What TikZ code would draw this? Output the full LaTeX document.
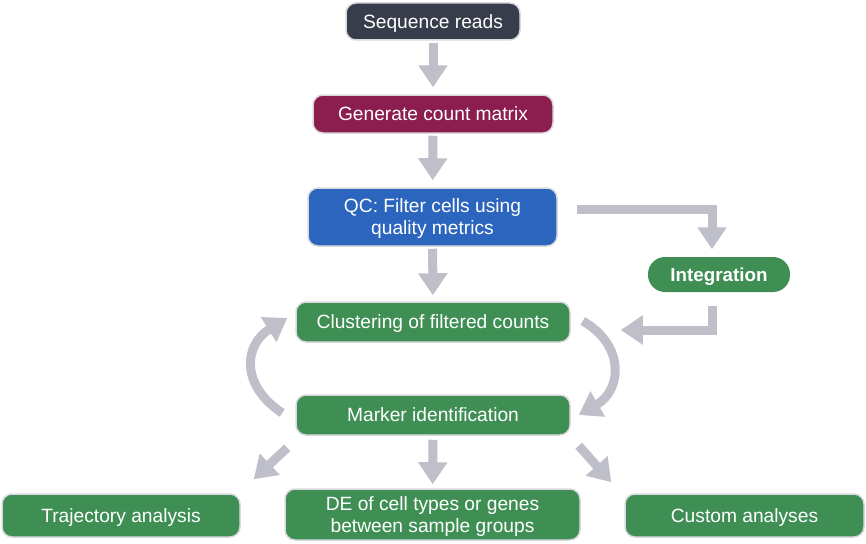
\documentclass[tikz,border=0pt]{standalone}
\usepackage{fontspec}
\setmainfont{Liberation Sans}
\usetikzlibrary{arrows.meta}

\definecolor{readsgray}{HTML}{383D4C}
\definecolor{countred}{HTML}{8B1E4E}
\definecolor{qcblue}{HTML}{2B65BD}
\definecolor{stepgreen}{HTML}{3F8F55}
\definecolor{arrowgray}{HTML}{BFBFCA}
\definecolor{edgegray}{HTML}{D9D9DE}

\begin{document}
\begin{tikzpicture}[x=1pt,y=-1pt,
    box/.style={draw=edgegray, line width=1.5pt, rounded corners=10pt, text=white, align=center,
                font=\fontsize{19.2}{22}\selectfont, inner sep=0pt, text height=13.8pt, text depth=0pt},
    twoline/.style={text height=35.8pt},
    flow/.style={draw=arrowgray, line width=9pt, -{Triangle[length=22pt,width=28pt]}}]
    \useasboundingbox (0,0) rectangle (866,543);

    \node[box, fill=readsgray, minimum width=174pt, minimum height=37pt] (reads) at (433,21.5) {Sequence reads};
    \node[box, fill=countred, minimum width=240pt, minimum height=38pt] (count) at (433,114) {Generate count matrix};
    \node[box, twoline, fill=qcblue, minimum width=249pt, minimum height=58pt] (qc) at (432.5,217) {QC: Filter cells using\\quality metrics};
    \node[box, draw=none, fill=stepgreen, rounded corners=17pt, minimum width=142pt, minimum height=35pt,
          font=\fontsize{18.8}{22}\selectfont\bfseries] (integ) at (719,274.5) {Integration};
    \node[box, fill=stepgreen, minimum width=274pt, minimum height=40pt] (clust) at (433,322) {Clustering of filtered counts};
    \node[box, fill=stepgreen, minimum width=274pt, minimum height=40pt] (marker) at (433,415) {Marker identification};
    \node[box, fill=stepgreen, minimum width=238pt, minimum height=43pt] (traj) at (121,515.5) {Trajectory analysis};
    \node[box, twoline, fill=stepgreen, minimum width=295pt, minimum height=51pt] (de) at (432.5,514.5) {DE of cell types or genes\\between sample groups};
    \node[box, fill=stepgreen, minimum width=239pt, minimum height=43pt] (custom) at (744.5,515.5) {Custom analyses};

    % main line
    \draw [flow, shorten <=2pt, shorten >=7pt] (reads) -- (count);
    \draw [flow, shorten <=2pt, shorten >=7pt] (count) -- (qc);
    \draw [flow, shorten <=2pt, shorten >=6pt] (qc) -- (clust);

    % side loop through integration
    \draw [flow] ([shift={(19,-8)}]qc.east) -| ([shift={(-7,-7)}]integ.north);
    \draw [flow] ([shift={(-7,13)}]integ.south) |- ([shift={(50,8)}]clust.east);

    % clustering <-> markers
    \draw [flow] ([shift={(-13,-2)}]marker.west) .. controls (240,385) and (244,345) .. ([shift={(-8,-4)}]clust.west);
    \draw [flow] ([shift={(12,-1)}]clust.east) .. controls (625,345) and (622,390) .. ([shift={(8,0)}]marker.east);

    % downstream
    \draw [flow] ([shift={(-8,12)}]marker.south west) -- ([shift={(13,-14)}]traj.north east);
    \draw [flow, shorten <=4pt, shorten >=4pt] (marker) -- (de);
    \draw [flow] ([shift={(8,10)}]marker.south east) -- ([shift={(-13,-11)}]custom.north west);

\end{tikzpicture}
\end{document}
